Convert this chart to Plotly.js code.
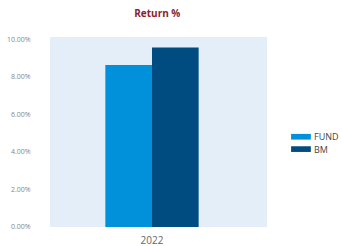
<!DOCTYPE html>
<html>
<head>
<meta charset="utf-8">
<script src="https://cdn.plot.ly/plotly-3.0.1.min.js"></script>
<style>html,body{margin:0;padding:0;background:#fff;}#chart{width:342px;height:246px;}</style>
</head>
<body>
<div id="chart"></div>
<script>
const categories = ["2022"];
const seriesNames = ["FUND", "BM"];
const fundValues = [8.64];
const bmValues = [9.57];
const seriesColors = ["#0091DA", "#004C80"];
const yTickVals = [0, 2, 4, 6, 8, 10];
const yTickText = ["0.00%", "2.00%", "4.00%", "6.00%", "8.00%", "10.00%"];

const traces = [
  {type: "bar", x: categories, y: fundValues, name: seriesNames[0], marker: {color: seriesColors[0]}, showlegend: false, hoverinfo: "none"},
  {type: "bar", x: categories, y: bmValues, name: seriesNames[1], marker: {color: seriesColors[1]}, showlegend: false, hoverinfo: "none"}
];

const legendY = [0.475, 0.41];
const shapes = [];
const annotations = [];
seriesNames.forEach((n, i) => {
  shapes.push({type: "rect", xref: "paper", yref: "paper", x0: 1.111, x1: 1.202, y0: legendY[i] - 0.015, y1: legendY[i] + 0.015, fillcolor: seriesColors[i], line: {width: 0}});
  annotations.push({xref: "paper", yref: "paper", x: 1.206, y: legendY[i], xanchor: "left", yanchor: "middle", text: n, showarrow: false, font: {family: "Open Sans, sans-serif", size: 9, color: "#444"}});
});

const layout = {
  width: 342, height: 246,
  margin: {l: 50, r: 75, t: 37, b: 19, pad: 0},
  paper_bgcolor: "#ffffff",
  plot_bgcolor: "#E4EEF9",
  title: {text: "<b>Return %</b>", x: 0.46, xanchor: "center", y: 0.945, yanchor: "middle", font: {family: "Open Sans, sans-serif", size: 10, color: "#8B1E2D"}},
  barmode: "group",
  bargap: 0.57,
  bargroupgap: 0,
  xaxis: {type: "category", range: [-0.47, 0.53], showgrid: false, zeroline: false, showline: false, ticks: "outside", ticklen: 4, tickcolor: "rgba(0,0,0,0)", tickfont: {family: "Open Sans, sans-serif", size: 10, color: "#666"}, fixedrange: true},
  yaxis: {range: [0, 10.13], tickvals: yTickVals, ticktext: yTickText, showgrid: false, zeroline: false, showline: false, ticks: "outside", ticklen: 17, tickcolor: "rgba(0,0,0,0)", tickfont: {family: "Open Sans, sans-serif", size: 7, color: "#888"}, fixedrange: true},
  shapes: shapes,
  annotations: annotations,
  showlegend: false
};

Plotly.newPlot("chart", traces, layout, {staticPlot: true, displayModeBar: false});
</script>
</body>
</html>
